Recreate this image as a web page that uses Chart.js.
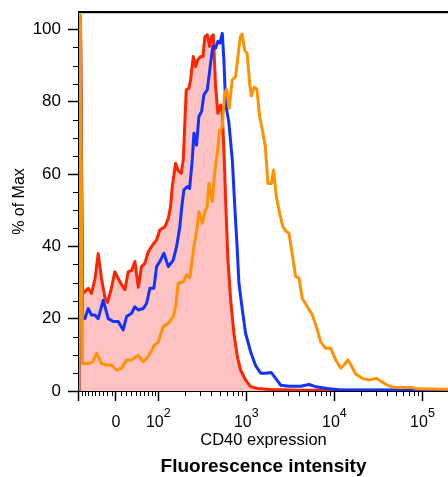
<!DOCTYPE html>
<html>
<head>
<meta charset="utf-8">
<script src="https://cdn.jsdelivr.net/npm/chart.js@4"></script>
<style>
  html, body { margin: 0; padding: 0; background: #fff; }
  #wrap { width: 448px; height: 477px; }
</style>
</head>
<body>
<div id="wrap"><canvas id="histo" width="448" height="477"></canvas></div>
<script>
// CD40 histograms, x in display units (decades of the biexponential axis)
const redPos = [1.100, 1.112, 1.140, 1.166, 1.205, 1.242, 1.282, 1.318, 1.356, 1.393, 1.424, 1.464, 1.507, 1.564, 1.620, 1.659, 1.697, 1.734, 1.773, 1.810, 1.848, 1.886, 1.943, 1.981, 2.018, 2.075, 2.114, 2.140, 2.159, 2.197, 2.225, 2.261, 2.284, 2.318, 2.348, 2.367, 2.398, 2.424, 2.450, 2.481, 2.507, 2.530, 2.557, 2.583, 2.606, 2.625, 2.651, 2.677, 2.708, 2.727, 2.748, 2.765, 2.791, 2.822, 2.859, 2.898, 2.935, 2.992, 3.049, 3.125, 3.276, 3.617, 5.290];
const redPct = [0, 120, 27, 27.5, 28.4, 27, 31, 38, 31, 26, 24.5, 28, 33, 30.2, 28, 33, 33.3, 35.8, 28.7, 34.4, 35.3, 38.5, 40.6, 41.8, 44.5, 45.4, 47.7, 51, 56.5, 63, 61, 60.2, 63.9, 83.3, 83.7, 86, 92.5, 89.7, 91.6, 92.5, 92.5, 98, 98.5, 95.3, 98, 98.5, 84.2, 76.8, 79.1, 76.8, 65, 52.8, 36.2, 25.2, 15.9, 9.5, 5.8, 3.0, 1.2, 0.7, 0.4, 0.2, 0.2];

const bluePos = [1.100, 1.112, 1.140, 1.166, 1.205, 1.242, 1.280, 1.318, 1.375, 1.432, 1.489, 1.545, 1.602, 1.640, 1.697, 1.734, 1.773, 1.830, 1.867, 1.905, 1.950, 1.981, 2.018, 2.064, 2.114, 2.170, 2.208, 2.245, 2.265, 2.291, 2.330, 2.356, 2.386, 2.405, 2.435, 2.461, 2.492, 2.518, 2.557, 2.594, 2.620, 2.651, 2.677, 2.700, 2.727, 2.745, 2.765, 2.802, 2.841, 2.870, 2.895, 2.916, 2.955, 2.992, 3.049, 3.106, 3.163, 3.219, 3.284, 3.333, 3.390, 3.484, 3.617, 3.711, 3.788, 3.920, 4.072, 5.290];
const bluePct = [0, 120, 20.5, 20, 22.8, 21, 21, 20, 25.1, 20, 19.2, 19.2, 16.9, 20.6, 21.5, 23.3, 22.4, 22.8, 24.2, 28.4, 28.4, 34.4, 35.8, 38.1, 34.4, 36.2, 39.9, 45.4, 50.5, 55.6, 56.5, 56, 63.9, 71.3, 68, 75.9, 77.3, 81.9, 83.3, 90.6, 95.3, 94.8, 96.7, 96.2, 98.9, 91.6, 79.6, 74.1, 63.9, 50.5, 40, 29.8, 22.4, 15.9, 10.8, 7, 4.9, 4.9, 5.1, 3.5, 1.6, 1.3, 1.3, 1.8, 1.2, 0.7, 0.3, 0.3];

const orangePos = [1.100, 1.112, 1.140, 1.155, 1.205, 1.253, 1.299, 1.356, 1.413, 1.469, 1.526, 1.583, 1.640, 1.697, 1.773, 1.830, 1.886, 1.958, 2.000, 2.057, 2.114, 2.170, 2.197, 2.227, 2.284, 2.322, 2.359, 2.405, 2.443, 2.461, 2.500, 2.538, 2.557, 2.575, 2.614, 2.640, 2.670, 2.697, 2.727, 2.753, 2.776, 2.806, 2.839, 2.878, 2.907, 2.933, 2.952, 2.981, 3.009, 3.038, 3.057, 3.089, 3.120, 3.151, 3.189, 3.216, 3.245, 3.284, 3.310, 3.341, 3.378, 3.416, 3.455, 3.484, 3.523, 3.560, 3.598, 3.636, 3.693, 3.750, 3.807, 3.844, 3.901, 3.958, 4.015, 4.072, 4.109, 4.155, 4.193, 4.242, 4.318, 4.393, 4.477, 4.534, 4.609, 4.685, 4.875, 4.932, 5.290];
const orangePct = [0, 120, 7.6, 7.6, 7.6, 8, 10.4, 7.6, 7.2, 7.2, 5.8, 6.3, 8.6, 8.6, 9.8, 8.1, 9.5, 12.7, 13.6, 17.8, 18.7, 20.6, 23.3, 29.8, 30.2, 32.1, 31.4, 39.9, 45.4, 49.6, 46.4, 50.1, 51, 57.4, 52.4, 60.2, 65.7, 72.1, 73, 82, 83.5, 78.2, 86, 86.9, 93, 98, 98.7, 94.3, 93.3, 85, 81.6, 84, 83.5, 75.9, 71.3, 67.6, 57.4, 57.4, 61.1, 53.7, 49.1, 45.4, 44.1, 43.6, 37.6, 31.6, 31.2, 25.6, 23.3, 21, 16.9, 13.6, 11.8, 11.8, 8.6, 6.3, 7.2, 8.6, 7, 4.7, 3.5, 3.0, 3.5, 2.6, 1.5, 1.0, 1.0, 0.6, 0.5];

// axis ticks
const yTickValues = [0, 20, 40, 60, 80, 100];
const xTickValues = [-100, 0, 1e2, 1e3, 1e4, 1e5];
const xTickLabels = ['', '0', '10^2', '10^3', '10^4', '10^5'];

const FONT = "'Liberation Sans', Arial, sans-serif";
const ZERO_AT = 1.52;

// biexponential display: asinh around zero, log10 above 100
function axisUnit(v) {
  if (v >= 100) return Math.log10(v);
  if (v >= 0) return ZERO_AT + Math.asinh(v / 74.3) / Math.LN10;
  return ZERO_AT - Math.asinh(-v / 88.8) / Math.LN10;
}

const xMinor = [];
for (let m = 10; m < 100; m += 10) { xMinor.push(-m, m); }
for (let d = 100; d <= 1e4; d *= 10) {
  for (let m = 2; m <= 9; m++) xMinor.push(m * d);
}
const yMinor = [];
for (let v = 5; v < 105; v += 5) { if (v % 20) yMinor.push(v); }

const toPoints = (xs, ys) => xs.map((x, i) => ({ x: x, y: ys[i] }));

const axisExtras = {
  id: 'axisExtras',
  afterDraw(chart) {
    const { ctx, chartArea: a } = chart;
    const x = chart.scales.x, y = chart.scales.y;
    ctx.save();

    // top frame
    ctx.strokeStyle = '#c8c8c8';
    ctx.lineWidth = 1;
    ctx.beginPath();
    ctx.moveTo(a.left, a.top + 1.5); ctx.lineTo(a.right, a.top + 1.5);
    ctx.stroke();
    ctx.strokeStyle = '#000';
    ctx.lineWidth = 2;
    ctx.beginPath();
    ctx.moveTo(a.left - 1, a.top); ctx.lineTo(a.right, a.top);
    ctx.stroke();

    // minor ticks
    ctx.lineWidth = 1;
    ctx.beginPath();
    yMinor.forEach(v => {
      const py = Math.round(y.getPixelForValue(v)) + 0.5;
      ctx.moveTo(a.left - 6, py); ctx.lineTo(a.left, py);
    });
    xMinor.forEach(v => {
      const px = Math.round(x.getPixelForValue(axisUnit(v))) + 0.5;
      ctx.moveTo(px, a.bottom); ctx.lineTo(px, a.bottom + 5);
    });
    ctx.stroke();

    // x tick labels with raised exponents
    ctx.fillStyle = '#000';
    ctx.textAlign = 'left';
    ctx.textBaseline = 'alphabetic';
    xTickValues.forEach((v, i) => {
      const label = xTickLabels[i];
      if (!label) return;
      const px = x.getPixelForValue(axisUnit(v));
      const parts = label.split('^');
      ctx.font = '16px ' + FONT;
      const wb = ctx.measureText(parts[0]).width;
      ctx.font = '12.5px ' + FONT;
      const we = parts[1] ? ctx.measureText(parts[1]).width : 0;
      const left = px - (wb + we) / 2;
      ctx.font = '16px ' + FONT;
      ctx.fillText(parts[0], left, a.bottom + 35.7);
      if (parts[1]) {
        ctx.font = '12.5px ' + FONT;
        ctx.fillText(parts[1], left + wb, a.bottom + 26.3);
      }
    });

    ctx.font = 'bold 19px ' + FONT;
    ctx.textAlign = 'center';
    ctx.fillText('Fluorescence intensity', (a.left + a.right) / 2, a.bottom + 80.7);
    ctx.restore();
  }
};

new Chart(document.getElementById('histo'), {
  type: 'line',
  data: {
    datasets: [{
      label: 'CD40 stained',
      data: toPoints(orangePos, orangePct),
      borderColor: '#ff9200',
      borderWidth: 3,
      fill: false,
      order: 0
    }, {
      label: 'CD40 low',
      data: toPoints(bluePos, bluePct),
      borderColor: '#1432ff',
      borderWidth: 3,
      fill: false,
      order: 1
    }, {
      label: 'Isotype',
      data: toPoints(redPos, redPct),
      borderColor: '#ff2400',
      backgroundColor: '#ffc2c2',
      borderWidth: 3,
      fill: 'origin',
      order: 2
    }]
  },
  options: {
    responsive: false,
    animation: false,
    layout: { padding: { top: 12, left: 0, right: 0, bottom: 0 } },
    elements: {
      point: { radius: 0 },
      line: { tension: 0, borderJoinStyle: 'round' }
    },
    plugins: {
      legend: { display: false },
      tooltip: { enabled: false }
    },
    scales: {
      x: {
        type: 'linear',
        min: 1.1,
        max: 5.29,
        afterBuildTicks: scale => { scale.ticks = xTickValues.map(v => ({ value: axisUnit(v) })); },
        afterFit: scale => {
          scale.height = 86;
          scale.paddingLeft = 0;
          scale.paddingRight = 0;
        },
        ticks: { display: false, autoSkip: false },
        grid: { drawOnChartArea: false, drawTicks: true, tickLength: 10, tickColor: '#000', tickWidth: 1.5 },
        border: { color: '#000', width: 2 },
        title: {
          display: true,
          text: 'CD40 expression',
          color: '#000',
          font: { family: FONT, size: 16.5 },
          padding: { top: 0, bottom: 27 }
        }
      },
      y: {
        min: 0,
        max: 104.8,
        afterBuildTicks: scale => { scale.ticks = yTickValues.map(v => ({ value: v })); },
        afterFit: scale => {
          scale.width = 79;
          scale.paddingTop = 0;
          scale.paddingBottom = 0;
        },
        ticks: { color: '#000', font: { family: FONT, size: 17 }, padding: 7 },
        grid: { drawOnChartArea: false, drawTicks: true, tickLength: 11, tickColor: '#000', tickWidth: 1.5 },
        border: { color: '#000', width: 2 },
        title: {
          display: true,
          text: '% of Max',
          color: '#000',
          font: { family: FONT, size: 16 },
          padding: { top: 10, bottom: 0 }
        }
      }
    }
  },
  plugins: [axisExtras]
});
</script>
</body>
</html>
